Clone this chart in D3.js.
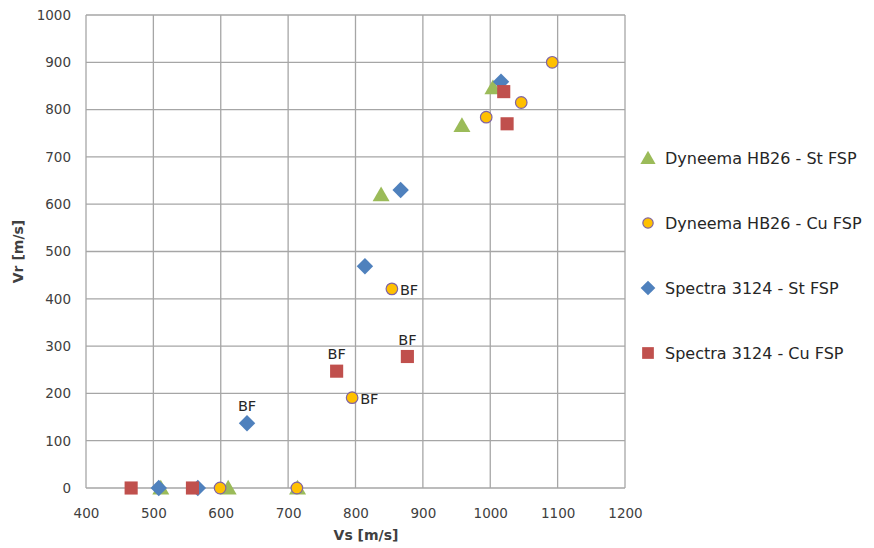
<!DOCTYPE html>
<html>
<head>
<meta charset="utf-8">
<script src="https://cdn.jsdelivr.net/npm/d3@7"></script>
<style>
  html, body { margin: 0; padding: 0; background: #fff; }
  svg { display: block; }
</style>
</head>
<body>
<svg id="chart" width="874" height="548"></svg>
<script>
// Residual velocity vs striking velocity for two laminates and two fragment simulating projectiles
const seriesNames = [
  "Dyneema HB26 - St FSP",
  "Dyneema HB26 - Cu FSP",
  "Spectra 3124 - St FSP",
  "Spectra 3124 - Cu FSP"
];
// [Vs, Vr, label]
const dyneemaSt = [[511, 0, ""], [611, 0, ""], [714, 0, ""], [838, 620, ""], [958, 766, ""], [1004, 846, ""]];
const dyneemaCu = [[599, 0, ""], [713, 0, ""], [795, 191, "BF"], [854, 421, "BF"], [994, 784, ""], [1046, 815, ""], [1092, 900, ""]];
const spectraSt = [[508, 0, ""], [566, 0, ""], [639, 137, "BF"], [814, 469, ""], [867, 630, ""], [1016, 859, ""]];
const spectraCu = [[467, 0, ""], [558, 0, ""], [772, 247, "BF"], [877, 278, "BF"], [1020, 838, ""], [1025, 770, ""]];
const xTicks = [400, 500, 600, 700, 800, 900, 1000, 1100, 1200];
const yTicks = [0, 100, 200, 300, 400, 500, 600, 700, 800, 900, 1000];

const svg = d3.select("#chart");
const plot = { left: 86, right: 625, top: 15, bottom: 488 };

const x = d3.scaleLinear().domain([400, 1200]).range([plot.left, plot.right]);
const y = d3.scaleLinear().domain([0, 1000]).range([plot.bottom, plot.top]);

const gridColor = "#a6a6a6";
const textColor = "#404040";

// gridlines
const grid = svg.append("g");
grid.selectAll("line.v").data(xTicks).join("line")
  .attr("x1", d => x(d)).attr("x2", d => x(d))
  .attr("y1", plot.top).attr("y2", plot.bottom)
  .attr("stroke", gridColor).attr("stroke-width", 1.3);
grid.selectAll("line.h").data(yTicks).join("line")
  .attr("x1", plot.left).attr("x2", plot.right)
  .attr("y1", d => y(d)).attr("y2", d => y(d))
  .attr("stroke", gridColor).attr("stroke-width", 1.3);

// axes
const fmt = d3.format("d");
const xAxis = svg.append("g")
  .attr("transform", `translate(0,${plot.bottom})`)
  .call(d3.axisBottom(x).tickValues(xTicks).tickFormat(fmt).tickSize(0).tickPadding(20));
const yAxis = svg.append("g")
  .attr("transform", `translate(${plot.left},0)`)
  .call(d3.axisLeft(y).tickValues(yTicks).tickFormat(fmt).tickSize(0).tickPadding(15));
[xAxis, yAxis].forEach(a => {
  a.select(".domain").remove();
  a.selectAll("text")
    .attr("font-family", "DejaVu Sans")
    .attr("font-size", 13.5)
    .attr("fill", textColor);
});

// axis titles
svg.append("text")
  .attr("x", 366).attr("y", 540)
  .attr("text-anchor", "middle")
  .attr("font-family", "DejaVu Sans").attr("font-weight", "bold")
  .attr("font-size", 14).attr("fill", textColor)
  .text("Vs [m/s]");
svg.append("text")
  .attr("transform", `translate(23,${(plot.top + plot.bottom) / 2}) rotate(-90)`)
  .attr("text-anchor", "middle")
  .attr("font-family", "DejaVu Sans").attr("font-weight", "bold")
  .attr("font-size", 14).attr("fill", textColor)
  .text("Vr [m/s]");

// marker styles per series (diamond = square turned 45 degrees)
const styles = [
  { data: dyneemaSt, symbol: d3.symbolTriangle, size: 125, rot: 0, fill: "#9bbb59", stroke: "none", dy: 1.5 },
  { data: dyneemaCu, symbol: d3.symbolCircle, size: 105, rot: 0, fill: "#ffc000", stroke: "#8064a2", dy: 0 },
  { data: spectraSt, symbol: d3.symbolSquare, size: 135, rot: 45, fill: "#4f81bd", stroke: "none", dy: 0 },
  { data: spectraCu, symbol: d3.symbolSquare, size: 172, rot: 0, fill: "#c0504d", stroke: "none", dy: 0 }
];

styles.forEach(s => {
  const sym = d3.symbol().type(s.symbol).size(s.size);
  svg.append("g").selectAll("path").data(s.data).join("path")
    .attr("d", sym)
    .attr("transform", d => `translate(${x(d[0])},${y(d[1]) + s.dy}) rotate(${s.rot})`)
    .attr("fill", s.fill)
    .attr("stroke", s.stroke)
    .attr("stroke-width", s.stroke === "none" ? 0 : 1.2);
});

// BF data labels: circles labelled to the right, others above
styles.forEach(s => {
  const right = s.symbol === d3.symbolCircle;
  svg.append("g").selectAll("text").data(s.data.filter(d => d[2])).join("text")
    .attr("x", d => right ? x(d[0]) + 8 : x(d[0]))
    .attr("y", d => right ? y(d[1]) + 6 : y(d[1]) - 12)
    .attr("text-anchor", right ? "start" : "middle")
    .attr("font-family", "DejaVu Sans")
    .attr("font-size", 14.5)
    .attr("fill", "#262626")
    .text(d => d[2]);
});

// legend
const legend = svg.append("g");
styles.forEach((s, i) => {
  const cy = 158 + i * 65;
  const sym = d3.symbol().type(s.symbol).size(s.size * 0.8);
  legend.append("path")
    .attr("d", sym)
    .attr("transform", `translate(648,${cy + s.dy}) rotate(${s.rot})`)
    .attr("fill", s.fill)
    .attr("stroke", s.stroke)
    .attr("stroke-width", s.stroke === "none" ? 0 : 1.2);
  legend.append("text")
    .attr("x", 665).attr("y", cy + 6)
    .attr("font-family", "DejaVu Sans")
    .attr("font-size", 16)
    .attr("fill", "#262626")
    .text(seriesNames[i]);
});
</script>
</body>
</html>
